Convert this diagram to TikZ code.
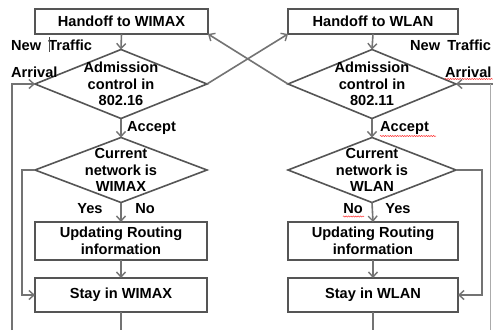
\documentclass[tikz,border=0pt]{standalone}
\usepackage{fontspec}
\setmainfont{Liberation Sans}
\usetikzlibrary{shapes.geometric,arrows.meta,decorations.pathmorphing}
\begin{document}
\begin{tikzpicture}[x=1pt,y=-1pt,
  every node/.style={font=\fontsize{14.6}{16.7}\selectfont\bfseries, text=black},
  procbox/.style={draw=boxgray, line width=1.6pt, fill=white, inner sep=0pt, outer sep=0pt, align=center},
  decision/.style={diamond, draw=boxgray, line width=1.6pt, inner sep=0pt, outer sep=0pt,
    minimum width=172pt, minimum height=69pt},
  flow/.style={draw=linegray, line width=1.6pt, -{Straight Barb[length=5pt,width=9pt,line width=1.4pt]}},
  plain/.style={draw=linegray, line width=1.6pt},
  spell/.style={draw=red!80, line width=0.5pt, decorate,
    decoration={snake, amplitude=0.6pt, segment length=2.4pt}}
]
\definecolor{boxgray}{RGB}{85,85,85}
\definecolor{linegray}{RGB}{115,115,115}
\useasboundingbox[fill=white] (0,0) rectangle (493,330);

% ---- WiMAX column ----
\node[procbox, minimum width=173pt, minimum height=25pt] (h1) at (121.5,21.5) {Handoff to WIMAX};
\node[decision] (d1) at (121,84) {};
\node at (d1) [align=center] {Admission\\control in\\802.16};
\node[decision, minimum height=65pt] (d3) at (121,170) {};
\node at (d3) [align=center] {Current\\network is\\WIMAX};
\node[procbox, minimum width=172pt, minimum height=38pt] (u1) at (121,241) {Updating Routing\\information};
\node[procbox, minimum width=172pt, minimum height=34pt] (s1) at (121,295) {Stay in WIMAX};

% ---- WLAN column ----
\node[procbox, minimum width=170pt, minimum height=25pt] (h2) at (373,21.5) {Handoff to WLAN};
\node[decision, minimum width=168pt] (d2) at (372,84) {};
\node at (d2) [align=center] {Admission\\control in\\802.11};
\node[decision, minimum width=168pt, minimum height=65pt] (d4) at (372,170) {};
\node at (d4) [align=center] {Current\\network is\\WLAN};
\node[procbox, minimum width=170pt, minimum height=38pt] (u2) at (373,241) {Updating Routing\\information};
\node[procbox, minimum width=170pt, minimum height=34pt] (s2) at (373,295) {Stay in WLAN};

% ---- labels ----
\node[anchor=west, inner sep=0pt] (nt1) at (11,45) {New\hspace{3pt} Traffic};
\node[anchor=west, inner sep=0pt] (ar1) at (11,72) {Arrival};
\node[anchor=west, inner sep=0pt] (nt2) at (410,45) {New\hspace{3pt} Traffic};
\node[anchor=west, inner sep=0pt] (ar2) at (445,72) {Arrival};
\node[anchor=west, inner sep=0pt] (ac1) at (127,128) {Accept};
\node[anchor=west, inner sep=0pt] (ac2) at (380,128) {Accept};
\node[inner sep=0pt] (y1) at (90,209) {Yes};
\node[inner sep=0pt] (n1) at (145,209) {No};
\node[inner sep=0pt] (n2) at (353,209) {No};
\node[inner sep=0pt] (y2) at (398,209) {Yes};

% text cursor mark and spelling underlines
\draw[black!70, line width=0.5pt] (49,37) -- (49,52);
\draw[spell] (445,79) -- (493,79);
\draw[spell] (380,136) -- (436,136);
\draw[spell] (343,216.5) -- (364,216.5);

% ---- coordinates for free ends ----
\coordinate (b1) at (121,330);
\coordinate (b2) at (373,330);
\coordinate (fbl) at (12,330);
\coordinate (fbr) at (493,84);

% ---- connectors ----
\draw[flow] (h1.south) -- (d1.north);
\draw[flow] (d1.south) -- (d3.north);
\draw[flow] (d3.south) -- (u1.north);
\draw[flow] (u1.south) -- (s1.north);
\draw[flow] (d3.west) -- ++(-13,0) |- (s1.west);
\draw[plain] (s1.south) -- (b1);
\draw[flow] (fbl) |- (d1.west);

\draw[flow] (h2.south) -- (d2.north);
\draw[flow] (d2.south) -- (d4.north);
\draw[flow] (d4.south) -- (u2.north);
\draw[flow] (u2.south) -- (s2.north);
\draw[flow] (d4.east) -- ++(26,0) |- (s2.east);
\draw[plain] (s2.south) -- (b2);
\draw[flow] (fbr) -- (d2.east);
\draw[linegray!60, line width=0.8pt] (490.5,84) -- (490.5,330);

% crossing handoff links
\draw[flow] (d1.east) -- (h2.south west);
\draw[flow] (d2.west) -- (h1.south east);
\end{tikzpicture}
\end{document}
